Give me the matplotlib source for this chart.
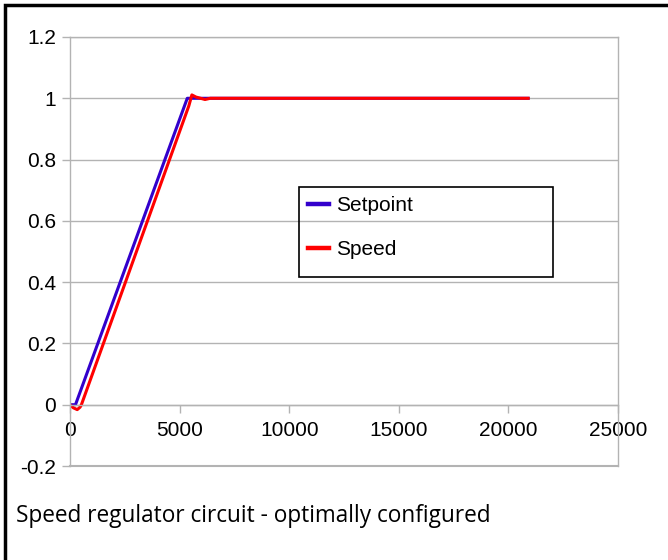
import matplotlib.pyplot as plt
from matplotlib.patches import Rectangle

# time steps and normalised signals
setpoint_t = [0, 250, 5350, 20900]
setpoint_v = [0, 0, 1.0, 1.0]

speed_t = [0, 150, 330, 460, 520, 5420, 5560, 5750, 6160, 6400, 20900]
speed_v = [0, -0.01, -0.016, -0.008, 0.0, 0.975, 1.011, 1.004, 0.996, 1.0, 1.0]

x_ticks = [0, 5000, 10000, 15000, 20000, 25000]
y_ticks = [-0.2, 0, 0.2, 0.4, 0.6, 0.8, 1.0, 1.2]
y_labels = ["-0.2", "0", "0.2", "0.4", "0.6", "0.8", "1", "1.2"]

grey = "#b3b3b3"
fs = 15
W, H = 668, 560

fig = plt.figure(figsize=(6.68, 5.6), dpi=100)
ax = fig.add_axes([70 / W, 1 - 466 / H, 548 / W, 429 / H])

ax.plot(setpoint_t, setpoint_v, color="#3300cc", lw=2.2, label="Setpoint")
ax.plot(speed_t, speed_v, color="#ff0000", lw=2.2, label="Speed")

for s in ax.spines.values():
    s.set_color(grey)
    s.set_linewidth(1)
ax.spines["bottom"].set_position(("data", 0))

ax.set_xlim(0, 25000)
ax.set_ylim(-0.2, 1.2)
ax.set_xticks(x_ticks)
ax.set_xticklabels([str(t) for t in x_ticks], fontsize=fs, family="Liberation Sans")
ax.set_yticks(y_ticks)
ax.set_yticklabels(y_labels, fontsize=fs, family="Liberation Sans")
ax.yaxis.grid(True, color=grey, lw=1)
ax.set_axisbelow(True)

# frame bottom edge at -0.2
ax.axhline(-0.2, color=grey, lw=1.5, clip_on=False)

ax.tick_params(axis="both", color=grey, length=6, width=1, pad=4)
ax.tick_params(axis="x", pad=6)

leg = ax.legend(loc="upper left", bbox_to_anchor=(308 / W, 1 - 196 / H),
                bbox_transform=fig.transFigure, frameon=False,
                handlelength=1.0, handletextpad=0.35, labelspacing=1.2,
                borderpad=0, borderaxespad=0,
                prop={"family": "Liberation Sans", "size": fs})
for h in leg.get_lines():
    h.set_linewidth(3.2)
fig.patches.append(Rectangle((299 / W, 1 - 277 / H), 254 / W, 90 / H,
                             transform=fig.transFigure, fill=False,
                             edgecolor="black", lw=1.2, zorder=5))

# outer border, partly outside the canvas
fig.patches.append(Rectangle((5 / W, -0.05), 1.2, 1 - 5 / H + 0.05,
                             transform=fig.transFigure, fill=False,
                             edgecolor="black", lw=2.5))

fig.text(16 / W, 1 - 516 / H, "Speed regulator circuit - optimally configured",
         fontsize=16.3, family="Open Sans", va="center", ha="left")

fig.savefig("out.png", dpi=100)
